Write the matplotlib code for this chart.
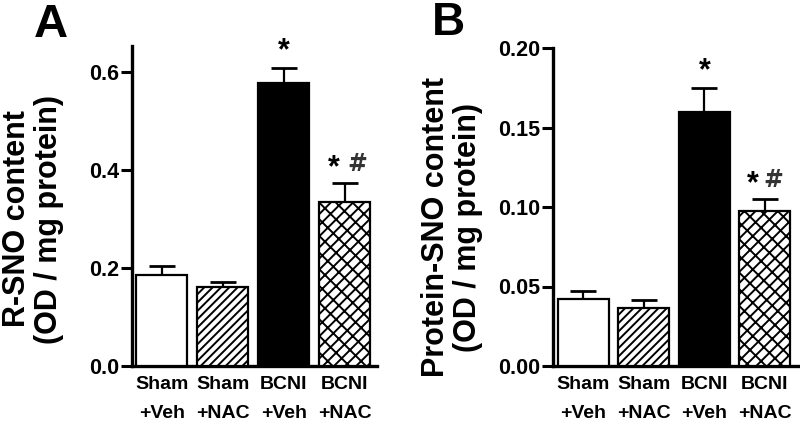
import matplotlib
matplotlib.use('Agg')
import matplotlib.pyplot as plt
import matplotlib.transforms as mtransforms

plt.rcParams['font.family'] = ['Liberation Sans', 'DejaVu Sans']
plt.rcParams['font.weight'] = 'bold'
plt.rcParams['hatch.linewidth'] = 1.4

groups = ['Sham\n+Veh', 'Sham\n+NAC', 'BCNI\n+Veh', 'BCNI\n+NAC']
rsno_mean = [0.186, 0.161, 0.577, 0.335]
rsno_sem = [0.018, 0.010, 0.031, 0.038]
prot_mean = [0.042, 0.0365, 0.160, 0.0975]
prot_sem = [0.005, 0.005, 0.015, 0.0075]
rsno_marks = ['', '', '*', '*#']
prot_marks = ['', '', '*', '*#']

colors = ['white', 'white', 'black', 'white']
hatches = ['', '////', '', '///\\\\']

fig = plt.figure(figsize=(8, 4.24), dpi=100)


def panel(rect, means, sems, marks, ylim, yticks, fmt, xlim, label_dx, star_dx, hash_dx):
    ax = fig.add_axes(rect)
    x = range(len(means))
    ax.bar(x, means, width=0.84, color=colors, hatch=hatches,
           edgecolor='black', linewidth=1.6, zorder=3)
    ax.errorbar(x, means, yerr=[[0] * len(means), sems], fmt='none',
                ecolor='black', elinewidth=1.6, capsize=9.5, capthick=2,
                zorder=2)
    for i, m in enumerate(marks):
        top = means[i] + sems[i]
        if m == '*':
            ax.annotate('*', xy=(i, top), xytext=(0, 1), textcoords='offset points',
                        ha='center', va='bottom', fontsize=22, fontweight='bold')
        elif m == '*#':
            ax.annotate('*', xy=(i, top), xytext=(star_dx, 0), textcoords='offset points',
                        ha='center', va='bottom', fontsize=22, fontweight='bold')
            ax.annotate('#', xy=(i, top), xytext=(hash_dx, 5), textcoords='offset points',
                        ha='center', va='bottom', fontsize=17, fontweight='bold',
                        family='DejaVu Sans', color='#333333')
    ax.set_ylim(*ylim)
    ax.set_xlim(*xlim)
    ax.set_yticks(yticks)
    ax.set_yticklabels([fmt.format(v) for v in yticks], fontsize=15.5)
    ax.set_xticks(list(x))
    ax.set_xticklabels(groups, fontsize=14, linespacing=1.95)
    for lab, dx in zip(ax.get_xticklabels(), label_dx):
        lab.set_transform(lab.get_transform() +
                          mtransforms.ScaledTranslation(dx / 100, 0, fig.dpi_scale_trans))
    ax.tick_params(axis='x', length=0, pad=7)
    ax.tick_params(axis='y', length=8, width=2.2, pad=1)
    for s in ['top', 'right']:
        ax.spines[s].set_visible(False)
    for s in ['left', 'bottom']:
        ax.spines[s].set_linewidth(2.4)
    return ax


panel([132 / 800, 58 / 424, 245 / 800, 320 / 424], rsno_mean, rsno_sem, rsno_marks,
      (0, 0.653), [0.0, 0.2, 0.4, 0.6], '{:.1f}', (-0.49, 3.53),
      [-15, -6, 3, 8], -8, 9)
panel([553 / 800, 58 / 424, 247 / 800, 318 / 424], prot_mean, prot_sem, prot_marks,
      (0, 0.20), [0.0, 0.05, 0.10, 0.15, 0.20], '{:.2f}', (-0.5, 3.58),
      [-11, -2, 5, 13], -9, 6)

fig.text(33 / 800, 1 - 219 / 424, 'R-SNO content\n(OD / mg protein)', rotation=90,
         ha='center', va='center', fontsize=22, linespacing=1.05)
fig.text(452 / 800, 1 - 227 / 424, 'Protein-SNO content\n(OD / mg protein)', rotation=90,
         ha='center', va='center', fontsize=22, linespacing=1.05)

fig.text(34 / 800, 1 - 37 / 424, 'A', fontsize=34, ha='left', va='baseline')
fig.text(432 / 800, 1 - 35 / 424, 'B', fontsize=33, ha='left', va='baseline')

fig.savefig('out.png', dpi=100)
